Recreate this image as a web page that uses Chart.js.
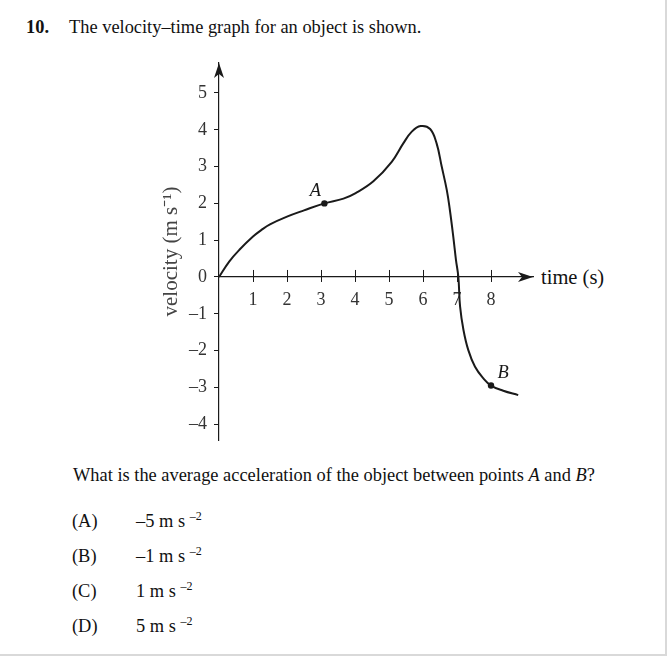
<!DOCTYPE html>
<html>
<head>
<meta charset="utf-8">
<script src="https://cdn.jsdelivr.net/npm/chart.js@4"></script>
<style>
  html, body { margin: 0; padding: 0; background: #fff; }
  #page { position: relative; width: 667px; height: 657px; overflow: hidden;
          font-family: "Liberation Serif", "Times New Roman", serif; color: #111; }
  #frame { position: absolute; left: 0; top: 0; width: 665px; height: 654px;
           border-right: 2px solid #d9d9d9; border-bottom: 2px solid #d9d9d9; }
  .t { position: absolute; font-size: 18.4px; line-height: 20px; white-space: nowrap; }
  .t sup { font-size: 12px; vertical-align: 0; position: relative; top: -7px; }
  canvas { position: absolute; left: 0; top: 0; }
</style>
</head>
<body>
<div id="page">
  <div id="frame"></div>
  <div class="t" style="left:26px;top:17px;font-weight:bold">10.</div>
  <div class="t" style="left:69px;top:17px">The velocity–time graph for an object is shown.</div>
  <div class="t" style="left:541px;top:267px;font-size:20.5px">time (s)</div>
  <div class="t" style="left:73px;top:465px">What is the average acceleration of the object between points <i>A</i> and <i>B</i>?</div>
  <div class="t" style="left:72px;top:511px">(A)</div>
  <div class="t" style="left:136px;top:511px">–5 m s <sup>–2</sup></div>
  <div class="t" style="left:72px;top:546px">(B)</div>
  <div class="t" style="left:136px;top:546px">–1 m s <sup>–2</sup></div>
  <div class="t" style="left:72px;top:581px">(C)</div>
  <div class="t" style="left:136px;top:581px">1 m s <sup>–2</sup></div>
  <div class="t" style="left:72px;top:616px">(D)</div>
  <div class="t" style="left:136px;top:616px">5 m s <sup>–2</sup></div>
  <canvas id="chart" width="667" height="460"></canvas>
</div>
<script>
// curve: time (s) and velocity (m/s)
const TIME = [0, 0.3, 0.6, 1.0, 1.25, 1.5, 2.0, 2.5, 3.1, 3.66, 4.02, 4.54, 5.08, 5.42, 5.67, 5.93,
  6.21, 6.4, 6.55, 6.7, 6.79, 6.89, 6.97, 7.04, 7.09, 7.19, 7.33, 7.53, 7.77, 8.0, 8.36, 8.8];
const VELOCITY = [0, 0.42, 0.74, 1.1, 1.28, 1.43, 1.64, 1.81, 2.0, 2.13, 2.28, 2.6, 3.13, 3.63, 3.95, 4.1,
  4.02, 3.63, 3.0, 2.36, 1.82, 1.1, 0.46, 0, -0.8, -1.44, -1.98, -2.44, -2.75, -2.95, -3.09, -3.21];

// marked points
const POINT_NAMES = ['A', 'B'];
const POINT_TIME = [3.1, 8.0];
const POINT_VEL = [2.0, -2.95];

const X_TICKS = [1, 2, 3, 4, 5, 6, 7, 8];
const Y_TICKS = [-4, -3, -2, -1, 0, 1, 2, 3, 4, 5];

const INK = '#1a1a1a';
const SERIF = '"Liberation Serif", "Times New Roman", serif';

function dashNum(v) {
  return v < 0 ? '–' + Math.abs(v) : String(v);
}

// arrowheads, crossing x ticks and point letters
const axisExtras = {
  id: 'axisExtras',
  afterDraw(chart) {
    const { ctx, chartArea, scales: { x, y } } = chart;
    const x0 = x.getPixelForValue(0);
    const y0 = y.getPixelForValue(0);
    ctx.save();
    ctx.strokeStyle = INK;
    ctx.fillStyle = INK;
    ctx.lineWidth = 1;

    for (const v of X_TICKS) {
      const px = Math.round(x.getPixelForValue(v)) + 0.5;
      ctx.beginPath();
      ctx.moveTo(px, y0 - 7);
      ctx.lineTo(px, y0 + 5);
      ctx.stroke();
    }

    // y arrow
    const top = chartArea.top;
    ctx.beginPath();
    ctx.moveTo(x0, top);
    ctx.lineTo(x0 + 5, top + 15);
    ctx.lineTo(x0, top + 11);
    ctx.lineTo(x0 - 5, top + 15);
    ctx.closePath();
    ctx.fill();

    // x arrow
    const right = chartArea.right;
    ctx.beginPath();
    ctx.moveTo(right, y0);
    ctx.lineTo(right - 15, y0 - 5);
    ctx.lineTo(right - 11, y0);
    ctx.lineTo(right - 15, y0 + 5);
    ctx.closePath();
    ctx.fill();

    ctx.font = 'italic 18.4px ' + SERIF;
    ctx.textAlign = 'center';
    ctx.textBaseline = 'middle';
    const offs = [[-9, -12], [12, -12]];
    POINT_NAMES.forEach((n, i) => {
      ctx.fillText(n, x.getPixelForValue(POINT_TIME[i]) + offs[i][0],
        y.getPixelForValue(POINT_VEL[i]) + offs[i][1]);
    });
    ctx.restore();
  },
};

new Chart(document.getElementById('chart'), {
  type: 'scatter',
  data: {
    datasets: [
      {
        data: TIME.map((t, i) => ({ x: t, y: VELOCITY[i] })),
        showLine: true,
        borderColor: INK,
        borderWidth: 2,
        pointRadius: 0,
        tension: 0.4,
      },
      {
        data: POINT_TIME.map((t, i) => ({ x: t, y: POINT_VEL[i] })),
        pointRadius: 3.2,
        pointBackgroundColor: INK,
        pointBorderWidth: 0,
      },
    ],
  },
  options: {
    responsive: false,
    animation: false,
    events: [],
    layout: { padding: { left: 139, right: 134, top: 63, bottom: 20 } },
    plugins: { legend: { display: false }, tooltip: { enabled: false } },
    scales: {
      x: {
        type: 'linear',
        min: 0,
        max: 9.235,
        position: { y: 0 },
        afterBuildTicks: (s) => { s.ticks = X_TICKS.map(v => ({ value: v })); },
        grid: { display: true, drawOnChartArea: false, drawTicks: false },
        border: { display: true, color: INK, width: 1.2 },
        ticks: {
          color: '#333',
          padding: 12,
          maxRotation: 0,
          autoSkip: false,
          font: { family: SERIF, size: 18 },
        },
      },
      y: {
        type: 'linear',
        min: -4.43,
        max: 5.815,
        afterFit: (s) => { s.width = 80; },
        afterBuildTicks: (s) => { s.ticks = Y_TICKS.map(v => ({ value: v })); },
        grid: { drawOnChartArea: false, drawTicks: true, tickLength: 5, color: INK },
        border: { display: true, color: INK, width: 1.2 },
        ticks: {
          color: '#333',
          padding: 7,
          autoSkip: false,
          font: { family: SERIF, size: 18 },
          callback: (v) => dashNum(v),
        },
        title: {
          display: true,
          text: 'velocity (m s⁻¹)',
          color: '#444',
          padding: { top: 20, bottom: 0 },
          font: { family: SERIF, size: 21 },
        },
      },
    },
  },
  plugins: [axisExtras],
});
</script>
</body>
</html>
